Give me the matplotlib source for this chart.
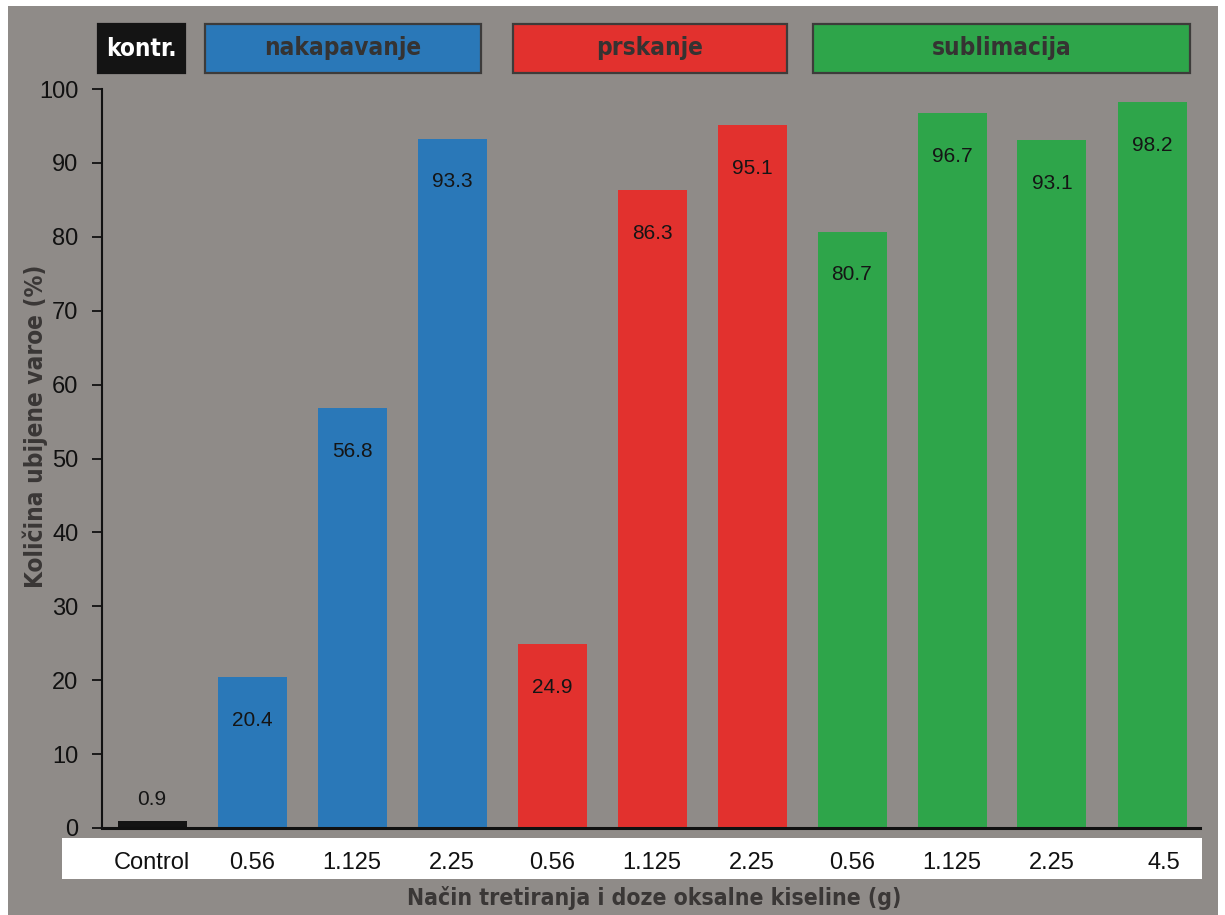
import matplotlib
matplotlib.use("Agg")
import matplotlib.pyplot as plt
from matplotlib.patches import Rectangle
from matplotlib import font_manager
from matplotlib.transforms import ScaledTranslation

# Treatment groups and doses of oxalic acid
categories = ["Control", "0.56", "1.125", "2.25", "0.56", "1.125", "2.25",
              "0.56", "1.125", "2.25", "4.5"]
values = [0.9, 20.4, 56.8, 93.3, 24.9, 86.3, 95.1, 80.7, 96.7, 93.1, 98.2]
groups = ["kontr.", "nakapavanje", "nakapavanje", "nakapavanje",
          "prskanje", "prskanje", "prskanje",
          "sublimacija", "sublimacija", "sublimacija", "sublimacija"]
group_names = ["kontr.", "nakapavanje", "prskanje", "sublimacija"]
group_colors = {"kontr.": "#141414", "nakapavanje": "#2a78b8",
                "prskanje": "#e2312e", "sublimacija": "#2ea54a"}
yticks = [0, 10, 20, 30, 40, 50, 60, 70, 80, 90, 100]

names = {f.name for f in font_manager.fontManager.ttflist}
NARROW = "Liberation Sans Narrow" if "Liberation Sans Narrow" in names else "DejaVu Sans"
REG = "Liberation Sans" if "Liberation Sans" in names else "DejaVu Sans"

BG = "#8f8b88"
W, H = 1225, 915
fig = plt.figure(figsize=(W / 100, H / 100), dpi=100, facecolor="white")

# grey panel behind everything
fig.patches.append(Rectangle((8 / W, 0), (1218 - 8) / W, 1 - 6 / H,
                             transform=fig.transFigure, facecolor=BG,
                             edgecolor="none", zorder=-2))
# white band under the category labels
fig.patches.append(Rectangle((62 / W, 1 - 879 / H), (1202 - 62) / W, 41 / H,
                             transform=fig.transFigure, facecolor="white",
                             edgecolor="none", zorder=-1))

ax = fig.add_axes([102 / W, 1 - 828 / H, (1200 - 102) / W, (828 - 89) / H])
ax.set_facecolor("none")
ax.set_zorder(3)

x = list(range(len(values)))
colors = [group_colors[g] for g in groups]
ax.bar(x, values, width=0.69, color=colors, edgecolor="none", zorder=2)

for xi, v in zip(x, values):
    dy = 16 if v < 5 else -31
    ax.annotate(f"{v}", (xi, v), xytext=(0, dy), textcoords="offset points",
                ha="center", va="center", fontsize=15, color="#151515",
                family=REG)

ax.set_xlim(-0.5, 10.48)
ax.set_ylim(0, 100)
ax.set_yticks(yticks)
ax.set_yticklabels([str(t) for t in yticks], fontsize=17, family=REG,
                   color="#111111")
ax.set_xticks(x)
ax.set_xticklabels(categories, fontsize=17, family=REG, color="#111111")
ax.tick_params(axis="x", length=0, pad=17)
ax.tick_params(axis="y", length=7, width=1.3, color="#111111", pad=10)

# the last dose label sits a little to the right of its bar
last = ax.get_xticklabels()[-1]
last.set_transform(last.get_transform() +
                   ScaledTranslation(12 / 100, 0, fig.dpi_scale_trans))

for s in ["top", "right"]:
    ax.spines[s].set_visible(False)
ax.spines["left"].set_linewidth(1.5)
ax.spines["left"].set_color("#111111")
ax.spines["bottom"].set_linewidth(2.2)
ax.spines["bottom"].set_color("#111111")

label_kw = dict(fontweight="bold", family=NARROW,
                fontstretch="condensed", color="#3a3736")
fig.text(35 / W, 1 - 426 / H, "Količina ubijene varoe (%)", rotation=90,
         ha="center", va="center", fontsize=17.5, **label_kw)
fig.text(654 / W, 1 - 898 / H, "Način tretiranja i doze oksalne kiseline (g)",
         ha="center", va="center", fontsize=16.5, **label_kw)

# group header boxes
boxes = {"kontr.": (98, 185), "nakapavanje": (205, 481),
         "prskanje": (513, 787), "sublimacija": (813, 1190)}
top_px, bot_px = 24, 73
for name in group_names:
    x0, x1 = boxes[name]
    fill = group_colors[name]
    edge = "#141414" if name == "kontr." else "#3d3b3a"
    fig.patches.append(Rectangle((x0 / W, 1 - bot_px / H), (x1 - x0) / W,
                                 (bot_px - top_px) / H,
                                 transform=fig.transFigure, facecolor=fill,
                                 edgecolor=edge, linewidth=1.6, zorder=2))
    tcolor = "white" if name == "kontr." else "#353332"
    fig.text((x0 + x1) / 2 / W, 1 - (top_px + bot_px) / 2 / H, name,
             ha="center", va="center", fontsize=17.5, fontweight="bold",
             family=NARROW, fontstretch="condensed", color=tcolor, zorder=3)

fig.savefig("out.png", dpi=100, facecolor="white")
